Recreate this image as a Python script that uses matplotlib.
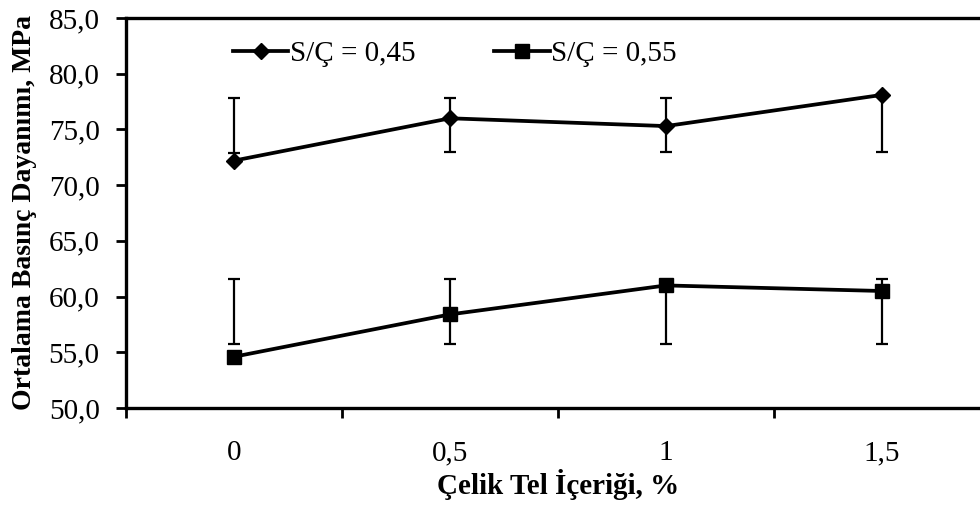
import numpy as np
import matplotlib
matplotlib.use("Agg")
import matplotlib.pyplot as plt
from matplotlib.ticker import FixedLocator, FuncFormatter

plt.rcParams['font.family'] = ['Liberation Serif', 'DejaVu Serif']

# veriler
etiketler = ["0", "0,5", "1", "1,5"]
sc045 = [72.2, 76.0, 75.3, 78.1]
sc045_alt = [72.9, 73.0, 73.0, 73.0]
sc045_ust = [77.8, 77.8, 77.8, 78.1]
sc055 = [54.6, 58.4, 61.0, 60.5]
sc055_alt = [55.7, 55.7, 55.7, 55.7]
sc055_ust = [61.6, 61.6, 61.0, 61.6]

fs = 21
x = np.arange(len(etiketler))

fig = plt.figure(figsize=(9.8, 5.07), dpi=100)
ax = fig.add_axes([126/980, 99/507, 864/980, 390/507])

def hata_cubugu(alt, ust):
    alt = np.array(alt)
    ust = np.array(ust)
    orta = (alt + ust) / 2
    ax.errorbar(x, orta, yerr=(ust - alt) / 2, fmt='none', ecolor='black',
                elinewidth=1.6, capsize=4.3, capthick=1.6, zorder=2)

hata_cubugu(sc045_alt, sc045_ust)
hata_cubugu(sc055_alt, sc055_ust)

ax.plot(x, sc045, color='black', lw=2.7, marker='D', markersize=8.5,
        label="S/Ç = 0,45", zorder=3)
ax.plot(x, sc055, color='black', lw=2.7, marker='s', markersize=10.5,
        label="S/Ç = 0,55", zorder=3)

ax.set_xlim(-0.5, 3.5)
ax.set_ylim(50, 85)
ax.set_yticks(np.arange(50, 86, 5))
ax.yaxis.set_major_formatter(FuncFormatter(lambda v, p: f"{v:.1f}".replace(".", ",")))
ax.xaxis.set_major_locator(FixedLocator(np.arange(-0.5, 3.6, 1)))
ax.xaxis.set_minor_locator(FixedLocator(x))
ax.xaxis.set_major_formatter(FuncFormatter(lambda v, p: ""))
ax.xaxis.set_minor_formatter(FuncFormatter(lambda v, p: etiketler[int(round(v))]))
ax.tick_params(axis='x', which='major', direction='out', length=7, width=2)
ax.tick_params(axis='x', which='minor', length=0, pad=23, labelsize=fs)
ax.tick_params(axis='y', direction='out', length=7, width=2, labelsize=fs, pad=12)
for s in ax.spines.values():
    s.set_linewidth(2.4)

ax.set_xlabel("Çelik Tel İçeriği, %", fontsize=fs, fontweight='bold', labelpad=2)
ax.set_ylabel("Ortalama Basınç Dayanımı, MPa", fontsize=20, fontweight='bold', labelpad=8)

fig.legend(loc='center left', bbox_to_anchor=(233/980, 1 - 54/507), ncol=2,
           frameon=False, fontsize=fs, handlelength=1.9, handletextpad=0.05,
           columnspacing=2.7, borderpad=0, borderaxespad=0)

fig.savefig("out.png", dpi=100)
